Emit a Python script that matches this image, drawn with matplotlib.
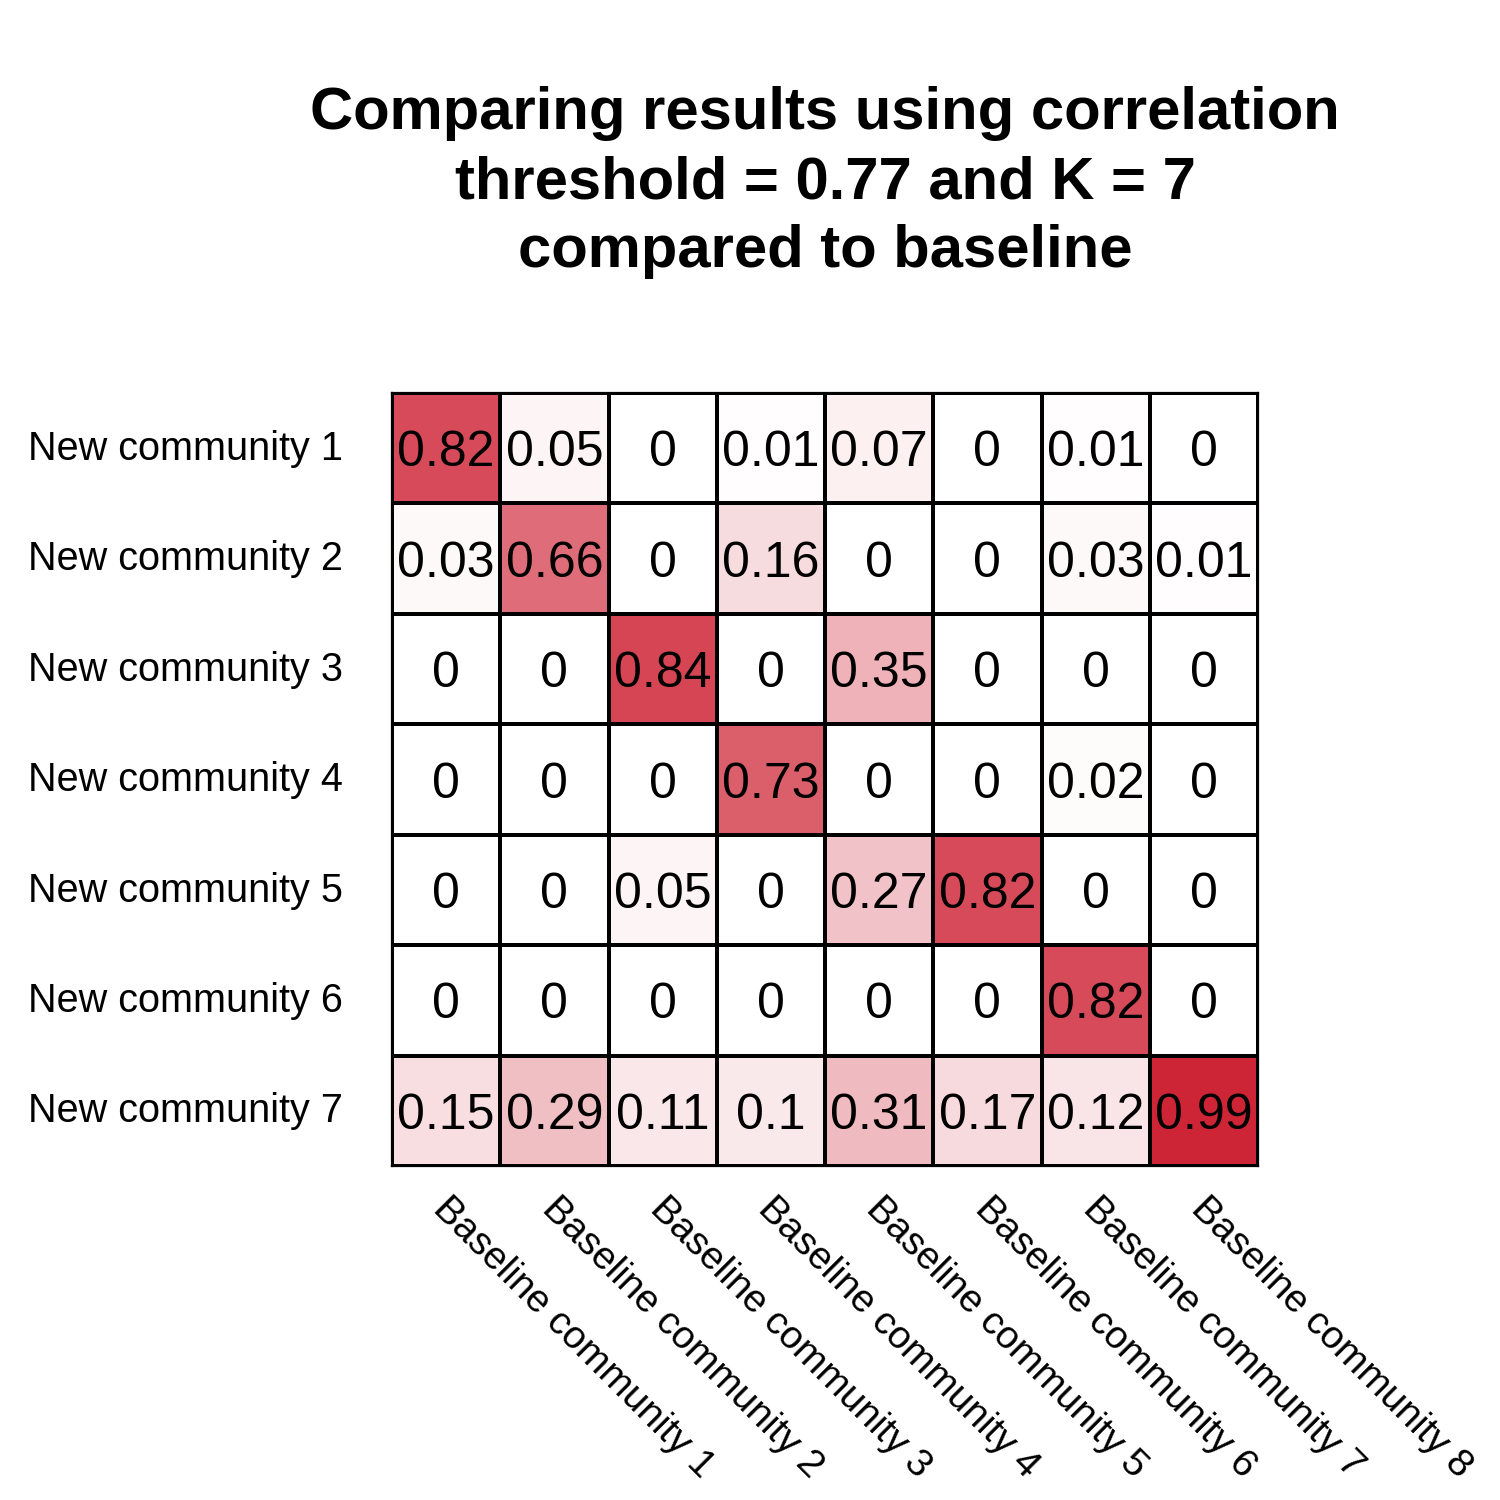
import numpy as np
import matplotlib
matplotlib.use("Agg")
import matplotlib.pyplot as plt
from matplotlib.colors import LinearSegmentedColormap
from matplotlib.transforms import ScaledTranslation, blended_transform_factory

# === DATA ===
row_labels = [f"New community {i}" for i in range(1, 8)]
col_labels = [f"Baseline community {i}" for i in range(1, 9)]

row1 = [0.82, 0.05, 0, 0.01, 0.07, 0, 0.01, 0]
row2 = [0.03, 0.66, 0, 0.16, 0, 0, 0.03, 0.01]
row3 = [0, 0, 0.84, 0, 0.35, 0, 0, 0]
row4 = [0, 0, 0, 0.73, 0, 0, 0.02, 0]
row5 = [0, 0, 0.05, 0, 0.27, 0.82, 0, 0]
row6 = [0, 0, 0, 0, 0, 0, 0.82, 0]
row7 = [0.15, 0.29, 0.11, 0.1, 0.31, 0.17, 0.12, 0.99]

title = ("Comparing results using correlation\n"
         "threshold = 0.77 and K = 7\n"
         "compared to baseline")

vals = np.array([row1, row2, row3, row4, row5, row6, row7])

# === PLOT ===
plt.rcParams['font.family'] = ['Liberation Sans', 'DejaVu Sans']
cmap = LinearSegmentedColormap.from_list('wr', ['#FFFFFF', '#CD2234'])

fig = plt.figure(figsize=(15, 15), dpi=100)
ax = fig.add_axes([392 / 1500, 1 - 1166 / 1500, 866 / 1500, 773 / 1500])

ax.pcolormesh(vals, cmap=cmap, vmin=0, vmax=1,
              edgecolors='black', linewidth=1.6)
ax.set_xlim(0, vals.shape[1])
ax.set_ylim(vals.shape[0], 0)
for s in ax.spines.values():
    s.set_linewidth(1.6)

for i in range(vals.shape[0]):
    for j in range(vals.shape[1]):
        v = vals[i, j]
        txt = "0" if v == 0 else f"{v:g}"
        ax.text(j + 0.5, i + 0.5, txt, ha='center', va='center_baseline',
                fontsize=36, color='black')

ax.set_xticks([])
ax.set_yticks([])

# row labels
for i, lab in enumerate(row_labels):
    ax.text(-0.45, i + 0.47, lab, ha='right', va='center_baseline', fontsize=28.5)

# column labels, rotated
base = blended_transform_factory(ax.transData, ax.transAxes)
offs = ScaledTranslation(-0.14, -0.44, fig.dpi_scale_trans)
for j, lab in enumerate(col_labels):
    ax.text(j + 0.5, 0, lab, ha='left', va='baseline', rotation=-45,
            rotation_mode='anchor', fontsize=28, transform=base + offs)

fig.text(825 / 1500, 1 - 86 / 1500, title, ha='center', va='top',
         fontsize=43, fontweight='bold', linespacing=1.33)

plt.savefig('out.png', dpi=100)
